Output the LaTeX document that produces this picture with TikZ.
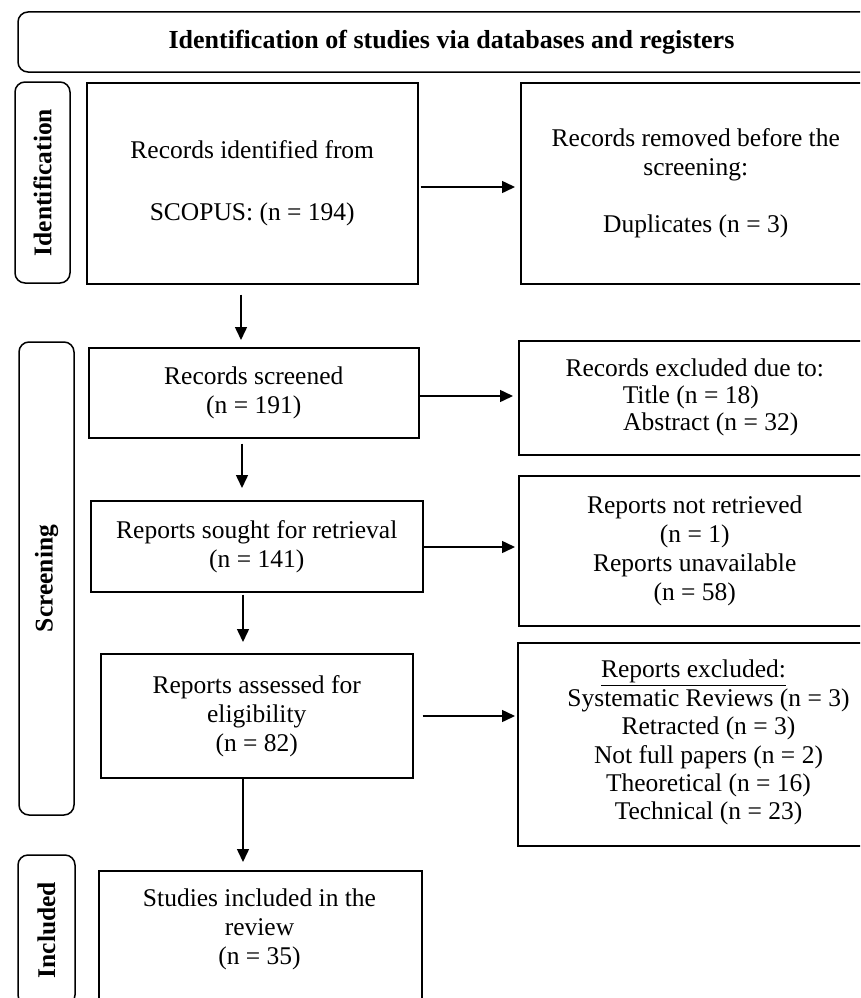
\documentclass[tikz,border=0pt]{standalone}
\usepackage{fontspec}
\setmainfont{Liberation Serif}
\usetikzlibrary{arrows.meta}
\tikzset{
  every node/.style={font=\fontsize{25.5}{29}\selectfont},
  box/.style={draw, line width=1.5pt, anchor=north west, inner sep=0pt, align=center},
  sidebar/.style={draw, line width=1.5pt, rounded corners=10pt, inner sep=0pt, font=\fontsize{25.5}{29}\selectfont\bfseries},
  arr/.style={line width=1.5pt, -{Triangle[length=13pt,width=12pt]}},
}
\begin{document}
\begin{tikzpicture}[x=1pt,y=-1pt]
\useasboundingbox (0,0) rectangle (860,998);
\clip (0,0) rectangle (860,998);

% header
\node[sidebar, minimum width=867pt, minimum height=60pt, font=\fontsize{26}{29}\selectfont\bfseries] (hdr) at (451.5,42)
  {Identification of studies via databases and registers};

% side bars
\node[sidebar, rotate=90, minimum width=201pt, minimum height=55pt] (idbar) at (42.5,182.5) {Identification};
\node[sidebar, rotate=90, minimum width=473pt, minimum height=55pt] (scbar) at (46.5,578.5) {Screening};
\node[sidebar, rotate=90, minimum width=150pt, minimum height=57pt] (inbar) at (46.5,930) {Included};

% left column
\node[box, minimum width=331pt, minimum height=201pt] (box1) at (86,82)
  {Records identified from\\[33pt]SCOPUS: (n = 194)};
\node[box, minimum width=330pt, minimum height=90pt] (screened) at (88,347)
  {Records screened\\(n = 191)};
\node[box, minimum width=332pt, minimum height=91pt] (sought) at (90,500)
  {Reports sought for retrieval\\(n = 141)};
\node[box, minimum width=312pt, minimum height=124pt] (assessed) at (100,653)
  {Reports assessed for\\eligibility\\(n = 82)};
\node[box, minimum width=323pt, minimum height=160pt] (studies) at (98,870) {};
\node[anchor=north, align=center, inner sep=0pt] (studiestext) at (259.5,889)
  {Studies included in the\\review\\(n = 35)};

% right column
\node[box, minimum width=350pt, minimum height=201pt] (removed) at (520,82)
  {Records removed before the\\screening:\\[28pt]Duplicates (n = 3)};
\node[box, minimum width=352pt, minimum height=114pt] (excl1) at (518,340)
  {Records excluded due to:\\[-2pt]\hspace*{-8pt}Title (n = 18)\\[-2pt]\hspace*{32pt}Abstract (n = 32)};
\node[box, minimum width=352pt, minimum height=150pt] (notret) at (518,475)
  {Reports not retrieved\\(n = 1)\\Reports unavailable\\(n = 58)};
\node[box, minimum width=353pt, minimum height=203pt] (excl2) at (517,642) {};
\node[anchor=north, align=center, inner sep=0pt] (excl2text) at (693.5,660)
  {\underline{Reports excluded:}\\[-0.6pt]
   \hspace*{30pt}Systematic Reviews (n = 3)\\[-0.6pt]
   \hspace*{30pt}Retracted (n = 3)\\[-0.6pt]
   \hspace*{30pt}Not full papers (n = 2)\\[-0.6pt]
   \hspace*{30pt}Theoretical (n = 16)\\[-0.6pt]
   \hspace*{30pt}Technical (n = 23)};

% guide coordinates
\coordinate (cx1) at (241,0);
\coordinate (cx2) at (242,0);
\coordinate (cx3) at (243,0);
\coordinate (cy1) at (0,187);
\coordinate (cy2) at (0,396);
\coordinate (cy3) at (0,547);
\coordinate (cy4) at (0,716);

% arrows
\draw[arr, shorten <=2pt, shorten >=5pt] (box1.east |- cy1) -- (removed.west |- cy1);
\draw[arr, shorten <=10pt, shorten >=7pt] (box1.south -| cx1) -- (screened.north -| cx1);
\draw[arr, shorten >=5pt] (screened.east |- cy2) -- (excl1.west |- cy2);
\draw[arr, shorten <=5pt, shorten >=12pt] (screened.south -| cx2) -- (sought.north -| cx2);
\draw[arr, shorten >=3pt] (sought.east |- cy3) -- (notret.west |- cy3);
\draw[arr, shorten <=2pt, shorten >=11pt] (sought.south -| cx3) -- (assessed.north -| cx3);
\draw[arr, shorten <=9pt, shorten >=2pt] (assessed.east |- cy4) -- (excl2.west |- cy4);
\draw[arr, shorten >=8pt] (assessed.south -| cx3) -- (studies.north -| cx3);
\end{tikzpicture}
\end{document}
